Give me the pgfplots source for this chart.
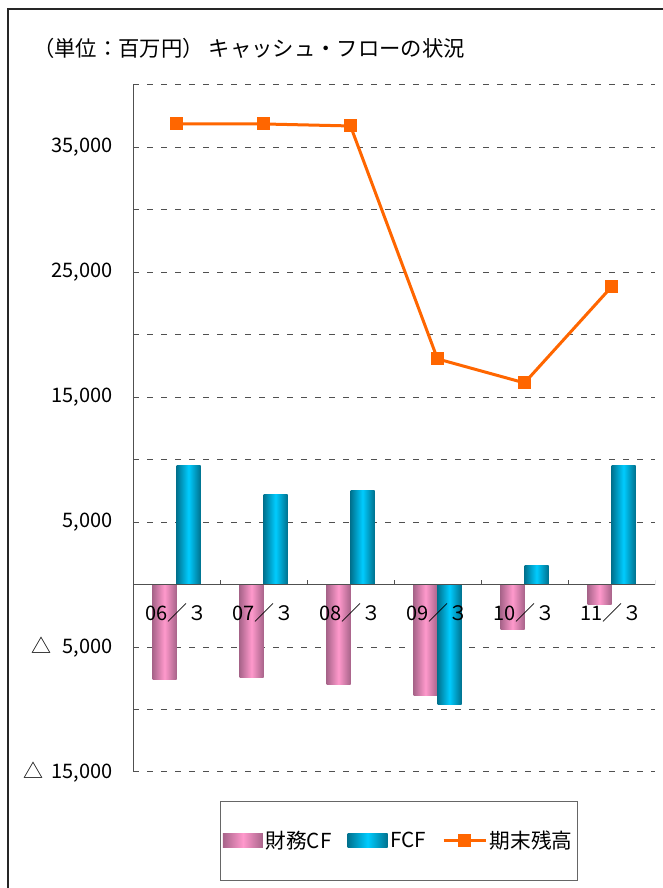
\documentclass[border=0pt]{standalone}
\usepackage{fontspec}
\setmainfont{Noto Sans CJK JP}
\usepackage{pgfplots}
\pgfplotsset{compat=1.18}
\definecolor{pinkD}{HTML}{A8648A}
\definecolor{pinkL}{HTML}{FF99CC}
\definecolor{cyanD}{HTML}{00728F}
\definecolor{cyanL}{HTML}{00CCFF}
\definecolor{orng}{HTML}{FF6600}
\definecolor{gridc}{HTML}{505050}
\tikzset{xlab/.style={font=\fontsize{15}{18}\selectfont, inner sep=0pt}}
\pgfplotsset{
  barlegend/.style={legend image code/.code={\path[##1,draw=none] (0pt,-5.25pt) rectangle (30pt,5.25pt);}},
  linelegend/.style={legend image code/.code={\draw[##1, mark repeat=2, mark phase=2] plot coordinates {(0pt,0pt) (15.75pt,0pt) (31.5pt,0pt)};}},
  pinkfill/.style={draw=none, left color=pinkD, right color=pinkD, middle color=pinkL},
  cyanfill/.style={draw=none, left color=cyanD, right color=cyanD, middle color=cyanL},
  pinkbar/.style={ybar, bar width=18pt, bar shift=-9pt, pinkfill, forget plot},
  cyanbar/.style={ybar, bar width=18pt, bar shift=9pt, cyanfill, forget plot},
}
\begin{document}
\begin{tikzpicture}
\begin{axis}[
  at={(99.75pt,87pt)}, anchor=south west,
  scale only axis, width=391.5pt, height=515.25pt,
  xmin=-0.5, xmax=5.5, ymin=-15000, ymax=40000,
  axis x line=none, axis y line*=left,
  y axis line style={draw=gridc, line width=0.75pt},
  ytick={-15000,-10000,...,40000},
  yticklabels={{△\hspace{0.4em}15,000},{},{△\hspace{0.55em}5,000},{},{5,000},{},{15,000},{},{25,000},{},{35,000},{}},
  scaled y ticks=false,
  major tick length=0pt,
  ymajorgrids,
  grid style={gridc, line width=0.75pt, dash pattern=on 4.5pt off 6pt},
  yticklabel style={font=\fontsize{15}{18}\selectfont, anchor=east, inner sep=0pt, xshift=-15pt},
  legend columns=3,
  legend style={at={(0.5096,-0.1004)}, anchor=center, draw=gray!80!black, line width=0.75pt,
    font=\fontsize{15.5}{18}\selectfont, inner xsep=2pt, inner ysep=20pt,
    /tikz/every even column/.append style={column sep=10pt}},
]
\addlegendimage{pinkfill, barlegend}
\addlegendentry{財務CF}
\addlegendimage{cyanfill, barlegend}
\addlegendentry{FCF}
% 財務CF
\addplot[pinkbar] coordinates {(0,-7580)};
\addplot[pinkbar] coordinates {(1,-7450)};
\addplot[pinkbar] coordinates {(2,-7990)};
\addplot[pinkbar] coordinates {(3,-8890)};
\addplot[pinkbar] coordinates {(4,-3610)};
\addplot[pinkbar] coordinates {(5,-1590)};
% FCF
\addplot[cyanbar] coordinates {(0,9560)};
\addplot[cyanbar] coordinates {(1,7240)};
\addplot[cyanbar] coordinates {(2,7570)};
\addplot[cyanbar] coordinates {(3,-9610)};
\addplot[cyanbar] coordinates {(4,1560)};
\addplot[cyanbar] coordinates {(5,9560)};
\draw[gridc, line width=1pt] (axis cs:-0.5,0) -- (axis cs:5.5,0);
\draw[gridc, line width=0.75pt] (axis cs:0.5,0) -- ([yshift=3.75pt]axis cs:0.5,0);
\draw[gridc, line width=0.75pt] (axis cs:1.5,0) -- ([yshift=3.75pt]axis cs:1.5,0);
\draw[gridc, line width=0.75pt] (axis cs:2.5,0) -- ([yshift=3.75pt]axis cs:2.5,0);
\draw[gridc, line width=0.75pt] (axis cs:3.5,0) -- ([yshift=3.75pt]axis cs:3.5,0);
\draw[gridc, line width=0.75pt] (axis cs:4.5,0) -- ([yshift=3.75pt]axis cs:4.5,0);
\draw[gridc, line width=0.75pt] (axis cs:5.5,0) -- ([yshift=3.75pt]axis cs:5.5,0);
\node[xlab] at ([yshift=-21pt]axis cs:0,0) {06／３};
\node[xlab] at ([yshift=-21pt]axis cs:1,0) {07／３};
\node[xlab] at ([yshift=-21pt]axis cs:2,0) {08／３};
\node[xlab] at ([yshift=-21pt]axis cs:3,0) {09／３};
\node[xlab] at ([yshift=-21pt]axis cs:4,0) {10／３};
\node[xlab] at ([yshift=-21pt]axis cs:5,0) {11／３};
\addplot[sharp plot, orng, line width=2.25pt, mark=square*, mark size=4.5pt,
  mark options={solid, fill=orng, line width=0pt}, linelegend]
  coordinates {(0,36880) (1,36880) (2,36720) (3,18070) (4,16150) (5,23840)};
\addlegendentry{期末残高}
\end{axis}
\node[anchor=west, inner sep=0pt, font=\fontsize{16}{19}\selectfont] at (24.75pt,630pt) {（単位：百万円） キャッシュ・フローの状況};
\draw[line width=1.5pt, draw=black!85] (6pt,-10pt) -- (6pt,659.25pt) -- (510pt,659.25pt);
\pgfresetboundingbox
\useasboundingbox (0,0) rectangle (496.5pt,666pt);
\end{tikzpicture}
\end{document}
